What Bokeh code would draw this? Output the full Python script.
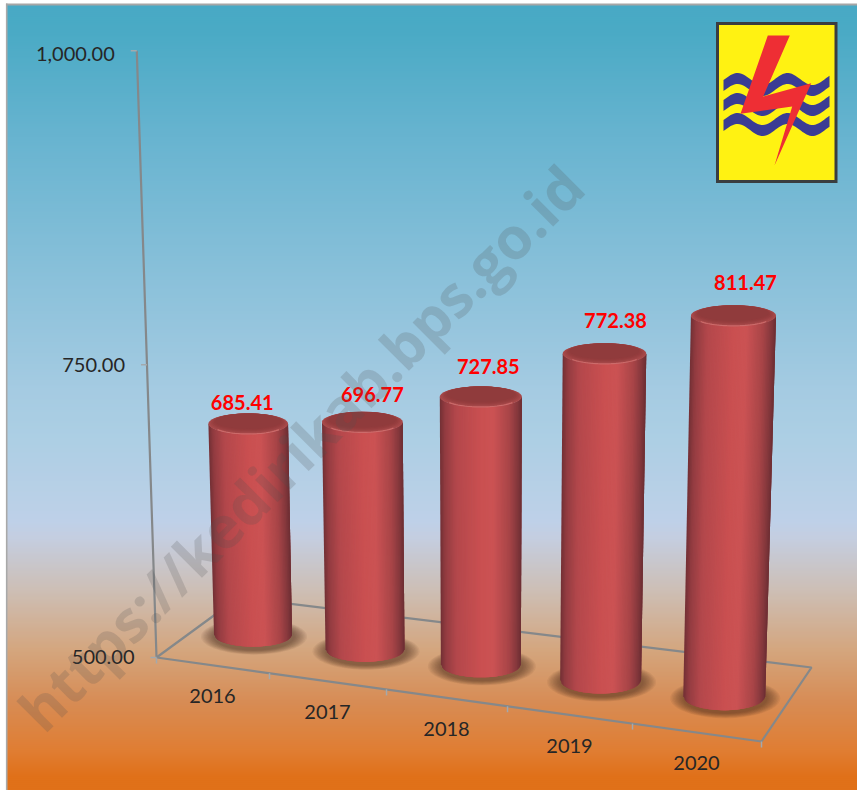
import numpy as np
from bokeh.plotting import figure
from bokeh.models import Range1d
from bokeh.core.properties import value
from bokeh.embed import file_html
from bokeh.resources import INLINE

# ---- data
categories = ["2016", "2017", "2018", "2019", "2020"]
values = [685.41, 696.77, 727.85, 772.38, 811.47]
value_ticks = [500, 750, 1000]
value_tick_labels = ["500.00", "750.00", "1,000.00"]
watermark = "https://kedirikab.bps.go.id"

# ---- styling / layout of the perspective box
FONT = value("Lato")
FL, FR, BR, BL = np.array((156., 657.)), np.array((761., 741.)), np.array((811., 667.)), np.array((238., 597.))
PERSPECTIVE = 0.0825
BAR_NUDGE_X = 1.0
TICK_LABEL_DY = [-1, 0, 3]
LABEL_DX = [-6, 10, 7.5, 11, 12]
LABEL_DY = [-21, -28, -30, -33, -33]
BG_STOPS = [(0, (72, 169, 197)), (30, (74, 170, 197)), (140, (105, 180, 208)), (390, (165, 203, 226)),
            (440, (173, 207, 228)), (520, (190, 208, 232)), (535, (196, 206, 225)), (590, (205, 190, 180)),
            (650, (212, 165, 125)), (700, (215, 140, 85)), (750, (224, 125, 50)), (775, (224, 113, 25)),
            (800, (224, 113, 25))]
SHADE_T = [0, .06, .2, .5, .65, .85, .95, 1]
SHADE_R = [0x72, 0x92, 0xb4, 0xca, 0xcc, 0xa8, 0x84, 0x6c]
SHADE_G = [0x30, 0x3c, 0x48, 0x50, 0x53, 0x45, 0x38, 0x2e]
SHADE_B = [0x35, 0x41, 0x4c, 0x51, 0x54, 0x48, 0x3c, 0x33]


def floor_pt(u, d):
    """Category position u (0..5) and depth d (0..1) on the floor -> page pixels."""
    t = u / 5
    s = t + PERSPECTIVE * t * (t - 1)
    q = (FL + s * (FR - FL)) * (1 - d) + (BL + s * (BR - BL)) * d
    return q[0], q[1]


def lift(X, Y, v):
    """Project the value v standing on floor point (X, Y)."""
    r = v - value_ticks[0]
    h = (1.1075 + 0.00099 * (Y - 635)) * r * (1 + 0.000149 * r)
    return X + (X - 481) * 1.0e-4 * h, Y - h


def ell(cx, cy, rx, ry, n=72):
    t = np.linspace(0, 2 * np.pi, n, endpoint=False)
    return (cx + rx * np.cos(t)).tolist(), (cy + ry * np.sin(t)).tolist()


p = figure(width=857, height=790, output_backend="svg", toolbar_location=None,
           x_range=Range1d(0, 857), y_range=Range1d(790, 0), min_border=0,
           outline_line_color=None, background_fill_color="#ffffff", border_fill_color="#ffffff")
p.axis.visible = False
p.grid.visible = False

# background gradient and its frame
ys = np.arange(4, 790, 2)
stops_y = [s[0] for s in BG_STOPS]
cols = ["#%02x%02x%02x" % tuple(int(round(np.interp(y, stops_y, [s[1][k] for s in BG_STOPS]))) for k in range(3)) for y in ys]
p.quad(left=6, right=857, top=ys, bottom=ys + 2.6, fill_color=cols, line_color=None)
p.line([6.2, 6.2], [3, 790], line_color="#a9a9a9", line_width=1.6)
p.line([5.5, 857], [4, 4], line_color="#a6a6a6", line_width=2)

# floor and ticks
AXC = "#85888a"
fl_xy = [floor_pt(0, 0), floor_pt(5, 0), floor_pt(5, 1), floor_pt(0, 1), floor_pt(0, 0)]
p.line([q[0] for q in fl_xy], [q[1] for q in fl_xy], line_color=AXC, line_width=2.2)
for i in range(0, 6):
    X, Y = floor_pt(i, 0)
    p.line([X, X], [Y, Y + 6], line_color="#a3a9ad", line_width=1.5)

# value axis
ax = [lift(*floor_pt(0, 0), v) for v in value_ticks]
p.line([q[0] for q in ax], [q[1] for q in ax], line_color=AXC, line_width=2.2)
for q in ax:
    p.line([q[0] - 6, q[0]], [q[1], q[1]], line_color="#a3a9ad", line_width=1.5)
p.text(x=[q[0] - 22 for q in ax], y=[q[1] + d for q, d in zip(ax, TICK_LABEL_DY)], text=value_tick_labels, text_font=FONT,
       text_font_size="20px", text_color="#262626", text_align="right", text_baseline="middle")

# category labels
cp = [floor_pt(i + .5, 0) for i in range(len(categories))]
p.text(x=[q[0] for q in cp], y=[q[1] + 31 for q in cp], text=categories, text_font=FONT,
       text_font_size="20px", text_color="#262626", text_align="center", text_baseline="middle")

# cylinders
lab_x, lab_y = [], []
for i, v in enumerate(values):
    Xb, Yb = floor_pt(i + .5, .5)
    Xb += BAR_NUDGE_X
    Xt, Yt = lift(Xb, Yb, v)
    rb = 39 + (Xb - 252) * 0.0042
    rt = rb * (1 + (Yb - Yt) * 0.0001)
    sb = 12 + (Xb - 252) * 0.0042
    st = 10.5
    # soft floor shadow
    for k in range(10):
        f = 1 - k / 10 * 0.26
        sx, sy = ell(Xb + 1, Yb + 2, (rb + 14) * f, (sb + 6) * f)
        p.patch(sx, sy, fill_color="#45301c", fill_alpha=0.07, line_color=None)
    # shaded side wall, built out of narrow vertical strips painted left to right
    N = 64
    ss = np.linspace(-1, 1, N + 1)
    xs, yy, cs = [], [], []
    for a, c in zip(ss[:-1], ss[1:]):
        t = ((a + c) / 2 + 1) / 2
        cs.append("#%02x%02x%02x" % (int(np.interp(t, SHADE_T, SHADE_R)), int(np.interp(t, SHADE_T, SHADE_G)), int(np.interp(t, SHADE_T, SHADE_B))))
        c2 = min(c + 0.07, 1)
        xs.append([Xb + a * rb, Xb + c2 * rb, Xt + c2 * rt, Xt + a * rt])
        yy.append([Yb + sb * np.sqrt(1 - a * a), Yb + sb * np.sqrt(1 - c2 * c2),
                   Yt + st * np.sqrt(1 - c2 * c2), Yt + st * np.sqrt(1 - a * a)])
    p.patches(xs, yy, fill_color=cs, line_color=None)
    # cap with a soft bevel
    cap_cols = ["#a84a4b", "#a34647", "#9c4243", "#973e3f", "#933c3d", "#903b3c"]
    for k, cc in enumerate(cap_cols):
        f = 1 - k * 0.035
        cx, cy = ell(Xt, Yt - k * 0.5, rt * f, st * (1 - k * 0.055))
        p.patch(cx, cy, fill_color=cc, line_color=None)
    th = np.linspace(np.radians(35), np.radians(145), 30)
    p.line(Xt + rt * 0.94 * np.cos(th), Yt + st * 0.97 * np.sin(th), line_color="#d4706f", line_width=1.2, line_alpha=.8)
    lab_x.append(Xt + LABEL_DX[i])
    lab_y.append(Yt + LABEL_DY[i])

p.text(x=lab_x, y=lab_y, text=[f"{v:.2f}" for v in values], text_font=FONT, text_font_style="bold",
       text_font_size="20px", text_color="#ff0000", text_align="center", text_baseline="middle")

# watermark
p.text(x=[300], y=[447], text=[watermark], angle=[45], angle_units="deg", text_font=value("Open Sans"),
       text_font_style="bold", text_font_size="58px", text_color="#505050", text_alpha=0.2,
       text_align="center", text_baseline="alphabetic")

# logo
p.quad(left=[717], right=[835.5], top=[23], bottom=[181], fill_color="#fff212", line_color="#3a3d40",
       line_width=3, line_join="miter")
wx = np.linspace(723, 829, 60)
for y0 in (84, 104, 124):
    wy = y0 - 6 * np.cos(2 * np.pi * (wx - 737) / 50)
    p.patch(np.r_[wx, wx[::-1]], np.r_[wy - 5.5, (wy + 5.5)[::-1]], fill_color="#3b3c94", line_color=None)
p.patch([767.3, 789.3, 762.7, 810.7, 774, 791.7, 740], [35, 35, 96, 82.7, 165, 106, 113.3], fill_color="#ee2e34", line_color=None)

open("out.html", "w").write(file_html(p, INLINE))
